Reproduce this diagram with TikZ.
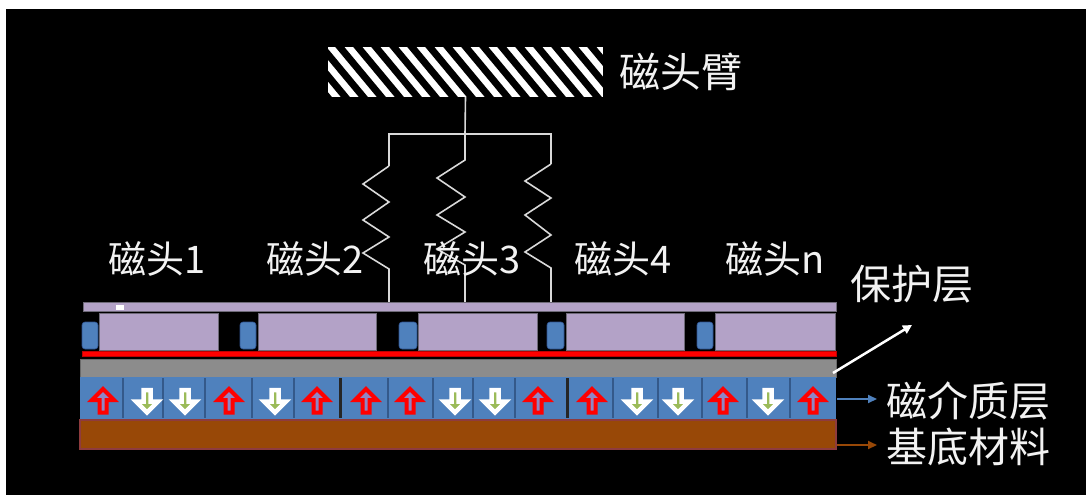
\documentclass[tikz,border=0pt]{standalone}
\usepackage{fontspec}
\newfontfamily\cjk{Noto Sans CJK SC}
\usetikzlibrary{arrows.meta}
\definecolor{lilac}{HTML}{B3A2C7}
\definecolor{lilacedge}{HTML}{6E6A78}
\definecolor{mblue}{HTML}{4F81BD}
\definecolor{pilledge}{HTML}{2F528F}
\definecolor{sepblue}{HTML}{34598A}
\definecolor{brownsub}{HTML}{984807}
\definecolor{brownedge}{HTML}{8E3B3E}
\definecolor{grayprot}{HTML}{8C8C8C}
\definecolor{grayedge}{HTML}{6A6A6A}
\definecolor{upfill}{HTML}{8F86C4}
\definecolor{downfill}{HTML}{9BBB59}
\definecolor{txt}{HTML}{F2F2F2}
\definecolor{wire}{HTML}{D9D9D9}

\begin{document}
\begin{tikzpicture}[x=1pt,y=-1pt,
  headlabel/.style={text=txt,inner sep=0pt,font=\cjk\fontsize{38}{38}\selectfont},
  sidelabel/.style={text=txt,inner sep=0pt,anchor=west,font=\cjk\fontsize{41}{41}\selectfont},
  wirepath/.style={draw=wire,line width=1.6pt,line join=miter},
  headblock/.style={fill=lilac,draw=lilacedge,line width=0.6pt},
  pill/.style={fill=mblue,draw=pilledge,line width=0.6pt,rounded corners=3pt},
  pointer/.style={line width=2pt,shorten >=9pt,-{Triangle[length=9pt,width=8pt]}},
  uparrow/.pic={\filldraw[fill=upfill,draw=red,line width=4pt,line join=miter]
      (0,-11) -- (11,0) -- (3.5,0) -- (3.5,12.5) -- (-3.5,12.5) -- (-3.5,0) -- (-11,0) -- cycle;},
  downarrow/.pic={\filldraw[fill=downfill,draw=white,line width=4.5pt,line join=miter]
      (0,12.5) -- (11,1.5) -- (3.5,1.5) -- (3.5,-10) -- (-3.5,-10) -- (-3.5,1.5) -- (-11,1.5) -- cycle;}
]
\useasboundingbox (0,0) rectangle (1086,495);
\fill[white] (0,0) rectangle (1086,495);
\fill[black] (6,9) rectangle (1086,495);

% head arm with diagonal stripes
\begin{scope}
  \clip (328,47) rectangle (603,97);
  \fill[white] (328,47) rectangle (603,97);
  \foreach \i in {0,...,20}
    \draw[black,line width=7pt] (280+\i*18,40) -- ++(54,65);
\end{scope}
\node[inner sep=0pt,minimum width=275pt,minimum height=50pt] (arm) at (465.5,72) {};
\node[sidelabel] (armlabel) at (619,72) {磁头臂};

% suspension springs
\coordinate (hub) at (465,134);
\coordinate (footL) at (389,302);
\coordinate (footC) at (465,302);
\coordinate (footR) at (551,302);
\draw[wirepath] (arm.south) -- (hub) -- (465,160) -- (437,178) -- (465,197) -- (437,215)
   -- (465,232) -- (437,249) -- (465,265) -- (footC);
\draw[wirepath] (389,166) -- (389,134) -- (551,134) -- (551,164);
\draw[wirepath] (389,166) -- (363,184) -- (389,202) -- (363,220) -- (389,237)
   -- (363,253) -- (389,269) -- (footL);
\draw[wirepath] (551,164) -- (525,181) -- (551,198) -- (525,215) -- (551,235)
   -- (525,252) -- (551,268) -- (footR);

% head labels
\node[headlabel] (h1) at (157,259) {磁头1};
\node[headlabel] (h2) at (315,259) {磁头2};
\node[headlabel] (h3) at (472,259) {磁头3};
\node[headlabel] (h4) at (623,259) {磁头4};
\node[headlabel] (hn) at (775,259) {磁头n};

% slider: top plate, head bodies and coil pills
\filldraw[fill=lilac,draw=lilacedge,line width=0.6pt] (83,302) rectangle (836,311);
\fill[white] (116,305) rectangle (124,310);
\foreach \a/\b in {99/218,258/376,418/537,566/684,715/835}
  \filldraw[headblock] (\a,313) rectangle (\b,350);
\foreach \a/\b in {82/98,240/256,399/417,547/564,697/713}
  \filldraw[pill] (\a,322) rectangle (\b,349);

% red line, protective gray layer
\filldraw[fill=red,draw=red!75!black,line width=0.6pt] (82,351) rectangle (836,356);
\filldraw[fill=grayprot,draw=grayedge,line width=0.8pt] (80,359) rectangle (836,377);
\coordinate (gray-end) at (833,373);

% magnetic medium
\fill[mblue] (80,377) rectangle (836,419);
\foreach \x in {123,163,205,252,294,388,433,473,515,613,658,702,747,790}
  \draw[sepblue,line width=2.5pt] (\x,378) -- (\x,418);
\foreach \x in {340,567}
  \draw[black!85,line width=3pt] (\x,378) -- (\x,418);
\foreach \x/\d in {103/U,147/D,185/D,229/U,275/D,317/U,366/U,410/U,455/D,495/D,538/U,
                   592/U,637/D,678/D,723/U,768/D,813/U}{
  \if\d U \pic at (\x,400) {uparrow}; \else \pic at (\x,400) {downarrow}; \fi
}
\coordinate (mag-end) at (837,399);

% substrate
\filldraw[fill=brownsub,draw=brownedge,line width=1.5pt] (80,420) rectangle (836,449);
\coordinate (sub-end) at (837,445);

% layer labels and pointers
\node[sidelabel] (lprot) at (850,284) {保护层};
\node[sidelabel] (lmag) at (886,401) {磁介质层};
\node[sidelabel] (lsub) at (886,447) {基底材料};
\coordinate (protTip) at (912,325);
\draw[white,line width=2.5pt,-{Triangle[length=9pt,width=9pt]}] (gray-end) -- (protTip);
\draw[pointer,mblue] (mag-end) -- (lmag.west |- mag-end);
\draw[pointer,brownsub] (sub-end) -- (lsub.west |- sub-end);
\end{tikzpicture}
\end{document}
